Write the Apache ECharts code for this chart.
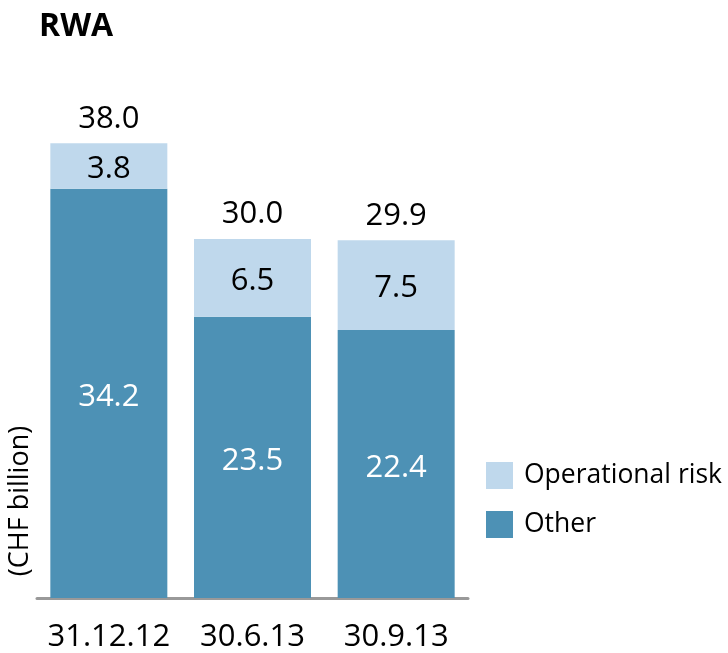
<!DOCTYPE html>
<html>
<head>
<meta charset="utf-8">
<script src="https://cdn.jsdelivr.net/npm/echarts@6/dist/echarts.min.js"></script>
<style>
  html, body { margin: 0; padding: 0; background: #fff; }
  #main { width: 728px; height: 653px; }
</style>
</head>
<body>
<div id="main"></div>
<script>
// RWA, CHF billion
var categories = ['31.12.12', '30.6.13', '30.9.13'];
var other = [34.2, 23.5, 22.4];
var operationalRisk = [3.8, 6.5, 7.5];
var totals = [38.0, 30.0, 29.9];

var fontFamily = '"Open Sans", "Noto Sans", sans-serif';

function drawChart() {
    var myChart = echarts.init(document.getElementById('main'));

    var option = {
        animation: false,
        textStyle: { fontFamily: fontFamily },
        title: {
            text: 'RWA',
            left: 34,
            top: 6,
            textStyle: { fontSize: 32, fontWeight: 'bold', color: '#000', fontFamily: fontFamily }
        },
        legend: {
            data: ['Operational risk', 'Other'],
            orient: 'vertical',
            left: 481,
            top: 457,
            itemWidth: 27,
            itemHeight: 27,
            itemGap: 22,
            icon: 'rect',
            textStyle: { fontSize: 26.5, color: '#000', fontFamily: fontFamily, padding: [0, 0, 0, 6] }
        },
        grid: {
            left: 37,
            right: 260,
            top: 119.4,
            bottom: 52,
            containLabel: false
        },
        xAxis: {
            type: 'category',
            data: categories,
            axisLine: { lineStyle: { color: '#999', width: 3 } },
            axisTick: { show: false },
            axisLabel: { interval: 0, fontSize: 31, color: '#000', margin: 24, fontFamily: fontFamily }
        },
        yAxis: {
            type: 'value',
            min: 0,
            max: 40,
            show: false
        },
        graphic: [{
            type: 'text',
            x: 20,
            y: 501,
            rotation: Math.PI / 2,
            style: {
                text: '(CHF billion)',
                fontSize: 27,
                fontFamily: fontFamily,
                fill: '#000',
                align: 'center',
                verticalAlign: 'middle'
            }
        }],
        series: [{
            name: 'Other',
            type: 'bar',
            stack: 'rwa',
            barWidth: 117,
            data: other,
            itemStyle: { color: '#4d91b5' },
            label: {
                show: true,
                position: 'inside',
                offset: [0, 4],
                color: '#fff',
                fontSize: 31,
                fontFamily: fontFamily,
                formatter: function (p) { return p.value.toFixed(1); }
            }
        }, {
            name: 'Operational risk',
            type: 'bar',
            stack: 'rwa',
            data: operationalRisk,
            itemStyle: { color: '#bfd8ec' },
            label: {
                show: true,
                position: 'inside',
                offset: [0, 3],
                color: '#000',
                fontSize: 31,
                fontFamily: fontFamily,
                formatter: function (p) { return p.value.toFixed(1); }
            }
        }, {
            name: 'Total',
            type: 'bar',
            stack: 'rwa',
            data: [0, 0, 0],
            itemStyle: { color: 'transparent' },
            label: {
                show: true,
                position: 'top',
                distance: 9,
                color: '#000',
                fontSize: 31,
                fontFamily: fontFamily,
                formatter: function (p) { return totals[p.dataIndex].toFixed(1); }
            }
        }]
    };

    myChart.setOption(option);
}

drawChart();
</script>
</body>
</html>
